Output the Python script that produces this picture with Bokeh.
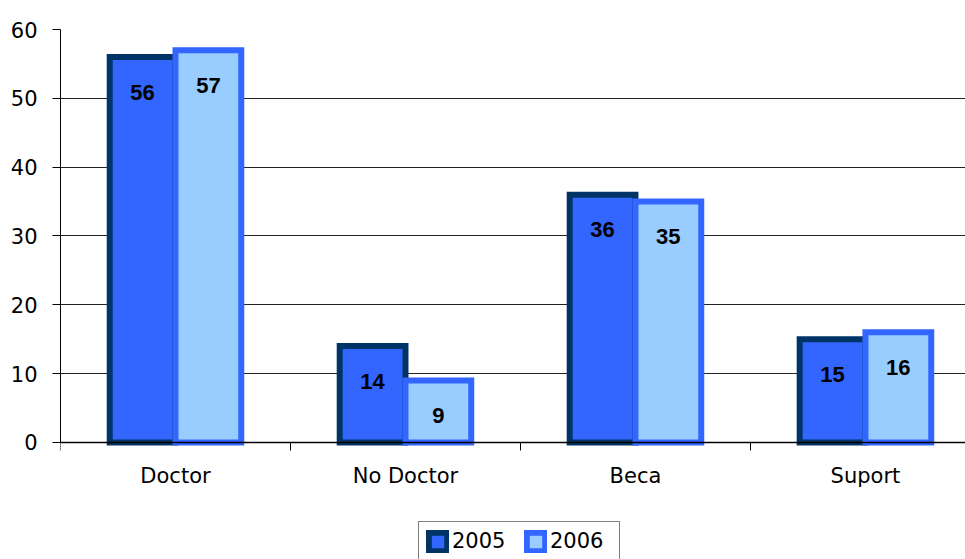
from bokeh.plotting import figure
from bokeh.models import (ColumnDataSource, Range1d, FixedTicker, Grid, Legend, LegendItem)
from bokeh.core.properties import value
from bokeh.embed import file_html
from bokeh.resources import INLINE

categories = ["Doctor", "No Doctor", "Beca", "Suport"]
years = ["2005", "2006"]
values_2005 = [56, 14, 36, 15]
values_2006 = [57, 9, 35, 16]
y_ticks = [0, 10, 20, 30, 40, 50, 60]

FONT = "DejaVu Sans"
BOLD_FONT = "Liberation Sans"
idx = list(range(len(categories)))
off = 0.143
bw = 0.286

src05 = ColumnDataSource(dict(x=[i + 0.5 - off for i in idx], top=values_2005,
                              lab=[str(v) for v in values_2005]))
src06 = ColumnDataSource(dict(x=[i + 0.5 + off for i in idx], top=values_2006,
                              lab=[str(v) for v in values_2006]))

# frame: x 60..965 (230 px per category), y 29..559 (60 units = 413 px)
p = figure(width=965, height=559, output_backend="svg", toolbar_location=None,
           x_range=Range1d(0, 3.935), y_range=Range1d(-17.0, 60),
           min_border_left=60, min_border_right=0, min_border_top=29,
           min_border_bottom=0)
p.outline_line_color = None
p.background_fill_color = "white"
p.border_fill_color = "white"

r05 = p.vbar(x="x", top="top", width=bw, bottom=0, source=src05,
             fill_color="#3366FF", line_color="#003366", line_width=6,
             line_join="miter")
r06 = p.vbar(x="x", top="top", width=bw, bottom=0, source=src06,
             fill_color="#99CCFF", line_color="#3366FF", line_width=6,
             line_join="miter")

for s in (src05, src06):
    p.text(x="x", y="top", text="lab", source=s, text_align="center",
           text_baseline="middle", y_offset=35,
           text_font=value(BOLD_FONT), text_font_style="bold",
           text_font_size="22px", text_color="black")

# grid
p.xgrid.grid_line_color = None
p.ygrid.ticker = FixedTicker(ticks=y_ticks[1:-1])
p.ygrid.grid_line_color = "#222222"
p.ygrid.grid_line_width = 1
top_grid = Grid(dimension=1, ticker=FixedTicker(ticks=[y_ticks[-1]]),
                grid_line_color="#808080", grid_line_width=2)
p.add_layout(top_grid)

# y axis
p.yaxis.ticker = FixedTicker(ticks=y_ticks)
p.yaxis.bounds = (y_ticks[0], y_ticks[-1])
p.yaxis.axis_line_color = "black"
p.yaxis.axis_line_width = 1
p.yaxis.major_tick_line_color = "black"
p.yaxis.major_tick_out = 8
p.yaxis.major_tick_in = 0
p.yaxis.minor_tick_line_color = None
p.yaxis.major_label_text_font = FONT
p.yaxis.major_label_text_font_size = "21px"
p.yaxis.major_label_text_color = "black"
p.yaxis.major_label_standoff = 15

# x axis drawn at y = 0
p.xaxis.fixed_location = 0
p.xaxis.ticker = FixedTicker(ticks=[i + 0.5 for i in idx],
                             minor_ticks=[i for i in range(len(categories) + 1)])
p.xaxis.major_label_overrides = {i + 0.5: c for i, c in zip(idx, categories)}
p.xaxis.major_tick_line_color = None
p.xaxis.minor_tick_line_color = "black"
p.xaxis.minor_tick_out = 8
p.xaxis.minor_tick_in = 0
p.xaxis.axis_line_color = "black"
p.xaxis.axis_line_width = 1.5
p.xaxis.major_label_text_font = FONT
p.xaxis.major_label_text_font_size = "21px"
p.xaxis.major_label_text_color = "black"
p.xaxis.major_label_standoff = 14

legend = Legend(items=[LegendItem(label=years[0], renderers=[r05]),
                       LegendItem(label=years[1], renderers=[r06])],
                orientation="horizontal", location=(358, -2),
                label_text_font=FONT, label_text_font_size="21px",
                label_text_color="black", glyph_width=23, glyph_height=23,
                label_standoff=3, label_width=62, spacing=10, padding=7,
                margin=0, border_line_color="black", border_line_width=1,
                background_fill_color="white", background_fill_alpha=1)
p.add_layout(legend, "center")

open("out.html", "w").write(file_html(p, INLINE))
